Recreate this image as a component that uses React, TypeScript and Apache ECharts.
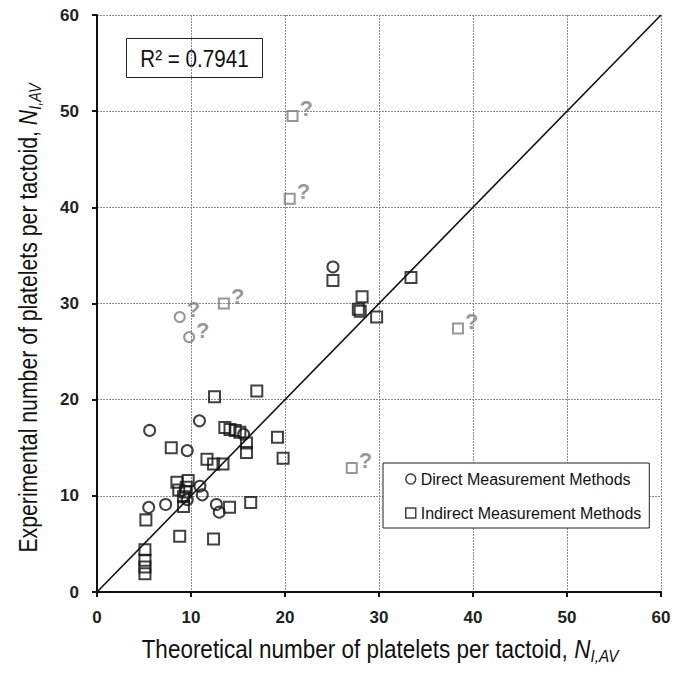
import React, { useEffect, useRef } from "react";
import * as echarts from "echarts";

const xTicks = [0, 10, 20, 30, 40, 50, 60];
const directPoints: number[][] = [
  [5.6, 16.8], [10.9, 17.8], [9.6, 14.7], [15.6, 16.4], [10.95, 11.0], [11.2, 10.1],
  [9.6, 9.6], [5.5, 8.8], [7.3, 9.1], [12.7, 9.1], [13.0, 8.3], [25.1, 33.8],
];
const indirectPoints: number[][] = [
  [12.5, 20.3], [17.0, 20.9], [13.6, 17.1], [14.15, 16.9], [14.7, 16.8], [15.2, 16.6],
  [15.9, 15.5], [15.9, 14.5], [19.2, 16.1], [19.8, 13.9], [7.9, 15.0], [11.7, 13.8],
  [12.4, 13.3], [13.4, 13.3], [8.5, 11.4], [9.7, 11.6], [8.7, 10.6], [9.5, 10.9],
  [9.4, 10.4], [9.2, 9.9], [9.2, 8.9], [14.1, 8.8], [16.35, 9.3], [5.2, 7.5],
  [8.8, 5.8], [12.4, 5.5], [5.1, 4.4], [5.1, 3.3], [5.1, 2.6], [5.1, 1.9],
  [25.1, 32.4], [28.2, 30.7], [27.8, 29.4], [28.0, 29.2], [29.75, 28.6], [33.4, 32.7],
];
const questionCircles: number[][] = [[8.8, 28.6], [9.8, 26.5]];
const questionSquares: number[][] = [[20.8, 49.5], [20.5, 40.9], [13.5, 30.0], [38.4, 27.4], [27.1, 12.9]];
const parityLine: number[][] = [[0, 0], [60, 60]];
const r2Text = "R\u00b2 = 0.7941";
const xTitle = "Theoretical number of platelets per tactoid, ";
const yTitle = "Experimental number of platelets per tactoid, ";
const symbolName = "N";
const symbolSub = "I,AV";

const FONT = "'Liberation Sans', Arial, sans-serif";
const GRAY = "#7d7d7d";

const titleRich = {
  t: { fontSize: 25, fontFamily: FONT, fill: "#111", lineHeight: 30 },
  n: { fontSize: 25, fontFamily: FONT, fill: "#111", fontStyle: "italic", lineHeight: 30 },
  s: { fontSize: 17, fontFamily: FONT, fill: "#111", fontStyle: "italic", lineHeight: 30, padding: [14, 0, 0, 0] },
};

export default function App() {
  const ref = useRef<HTMLDivElement>(null);
  useEffect(() => {
    const chart = echarts.init(ref.current!, null, { renderer: "svg" });
    const qLabel = {
      show: true,
      formatter: "?",
      position: "right",
      distance: 1,
      offset: [0, -7],
      color: GRAY,
      fontSize: 22,
      fontWeight: "bold",
      fontFamily: FONT,
    };
    chart.setOption({
      animation: false,
      backgroundColor: "#fff",
      grid: { left: 97, right: 24, top: 15, bottom: 81, containLabel: false },
      xAxis: {
        type: "value",
        min: 0,
        max: 60,
        interval: 10,
        axisLine: { show: true, lineStyle: { color: "#111", width: 2 } },
        axisTick: { show: true, inside: false, length: 5, lineStyle: { color: "#111", width: 2 } },
        axisLabel: {
          color: "#222", fontSize: 17, fontWeight: "bold", fontFamily: FONT, margin: 17,
          formatter: (v: number) => (xTicks.includes(v) ? String(v) : ""),
        },
        splitLine: { show: true, lineStyle: { color: "#8a8a8a", type: [2, 1], width: 1 } },
      },
      yAxis: {
        type: "value",
        min: 0,
        max: 60,
        interval: 10,
        axisLine: { show: true, lineStyle: { color: "#111", width: 2 } },
        axisTick: { show: true, inside: false, length: 5, lineStyle: { color: "#111", width: 2 } },
        axisLabel: { color: "#222", fontSize: 17, fontWeight: "bold", fontFamily: FONT, margin: 18 },
        splitLine: { show: true, lineStyle: { color: "#8a8a8a", type: [2, 1], width: 1 } },
      },
      legend: {
        orient: "vertical",
        left: 383,
        top: 463,
        backgroundColor: "#fff",
        borderColor: "#222",
        borderWidth: 1,
        padding: [8, 8, 7, 22],
        itemGap: 18,
        itemWidth: 10,
        itemHeight: 10,
        textStyle: { fontSize: 16, fontFamily: FONT, color: "#111" },
        data: [
          { name: "Direct Measurement Methods", icon: "circle", itemStyle: { color: "transparent", borderColor: "#111", borderWidth: 1.5 } },
          { name: "Indirect Measurement Methods", icon: "rect", itemStyle: { color: "transparent", borderColor: "#111", borderWidth: 1.5 } },
        ],
      },
      graphic: [
        {
          type: "group",
          left: 126,
          top: 38,
          children: [
            { type: "rect", shape: { x: 0, y: 0, width: 136, height: 39 }, style: { fill: "#fff", stroke: "#222", lineWidth: 1 } },
            {
              type: "text", x: 68, y: 20, scaleX: 0.86,
              style: { text: r2Text, fontSize: 24, fontFamily: FONT, fill: "#111", align: "center", verticalAlign: "middle" },
            },
          ],
        },
        {
          type: "text",
          x: 380,
          y: 649,
          scaleX: 0.9,
          style: {
            text: `{t|${xTitle}}{n|${symbolName}}{s|${symbolSub}}`,
            rich: titleRich,
            align: "center",
            verticalAlign: "middle",
          },
        },
        {
          type: "text",
          x: 28,
          y: 318,
          rotation: Math.PI / 2,
          scaleX: 0.85,
          style: {
            text: `{t|${yTitle}}{n|${symbolName}}{s|${symbolSub}}`,
            rich: titleRich,
            align: "center",
            verticalAlign: "middle",
          },
        },
      ],
      series: [
        {
          type: "line",
          data: parityLine,
          showSymbol: false,
          silent: true,
          lineStyle: { color: "#111", width: 1.6 },
          z: 1,
        },
        {
          name: "Direct Measurement Methods",
          type: "scatter",
          data: directPoints,
          symbol: "circle",
          symbolSize: 11,
          itemStyle: { color: "transparent", borderColor: "#111", borderWidth: 2 },
          z: 3,
        },
        {
          name: "Indirect Measurement Methods",
          type: "scatter",
          data: indirectPoints,
          symbol: "rect",
          symbolSize: 11,
          itemStyle: { color: "transparent", borderColor: "#111", borderWidth: 2 },
          z: 3,
        },
        {
          name: "Questionable Direct",
          type: "scatter",
          data: questionCircles,
          symbol: "circle",
          symbolSize: 10,
          itemStyle: { color: "transparent", borderColor: GRAY, borderWidth: 2 },
          label: qLabel,
          z: 3,
        },
        {
          name: "Questionable Indirect",
          type: "scatter",
          data: questionSquares,
          symbol: "rect",
          symbolSize: 10,
          itemStyle: { color: "transparent", borderColor: GRAY, borderWidth: 2 },
          label: qLabel,
          z: 3,
        },
      ],
    });
    return () => chart.dispose();
  }, []);
  return <div ref={ref} style={{ position: "fixed", left: 0, top: 0, width: 685, height: 673 }} />;
}
